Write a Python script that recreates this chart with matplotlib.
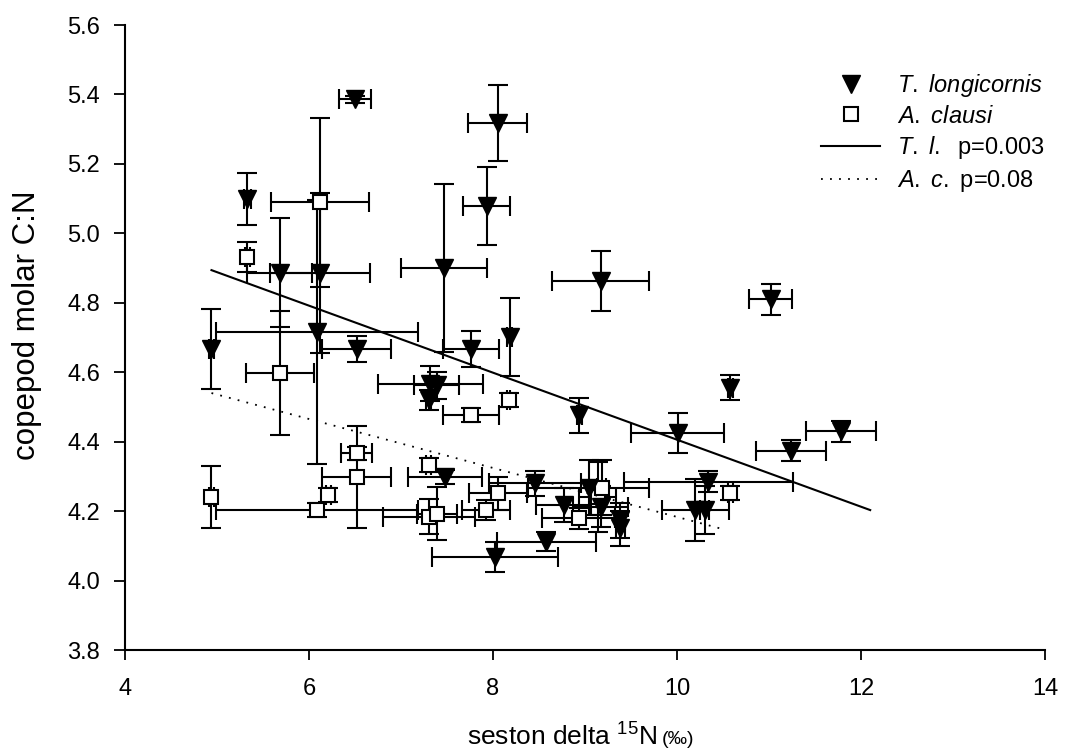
import matplotlib
matplotlib.use("Agg")
import matplotlib.pyplot as plt
import numpy as np
from matplotlib.lines import Line2D

# T. longicornis: x, y, x-error, y-error
tl_x = [4.94, 5.33, 5.68, 6.09, 6.12, 6.50, 6.52, 7.32, 7.39, 7.30, 7.47, 7.48, 7.76, 7.93, 8.02, 8.05, 8.18,
        8.46, 8.58, 8.77, 8.94, 9.04, 9.17, 9.17, 9.385, 9.385, 10.01, 10.20, 10.30, 10.34, 10.58, 11.02, 11.24, 11.78]
tl_y = [4.668, 5.099, 4.886, 4.716, 4.886, 5.386, 4.666, 4.567, 4.562, 4.52, 4.90, 4.297, 4.668, 5.079, 4.068, 5.318, 4.702,
        4.28, 4.112, 4.218, 4.476, 4.268, 4.863, 4.213, 4.174, 4.15, 4.426, 4.203, 4.203, 4.285, 4.556, 4.81, 4.374, 4.43]
tl_xerr = [0.03, 0.04, 0.35, 1.10, 0.54, 0.17, 0.375, 0.57, 0.245, 0.03, 0.47, 0.405, 0.305, 0.255, 0.685, 0.32, 0.03,
           0.50, 0.535, 0.30, 0.03, 0.66, 0.525, 0.30, 0.05, 0.05, 0.505, 0.36, 0.05, 0.92, 0.03, 0.235, 0.38, 0.38]
tl_yerr = [0.115, 0.074, 0.157, 0.38, 0.23, 0.01, 0.037, 0.05, 0.04, 0.03, 0.243, 0.02, 0.052, 0.112, 0.043, 0.11, 0.113,
           0.036, 0.027, 0.05, 0.051, 0.08, 0.087, 0.06, 0.05, 0.05, 0.058, 0.09, 0.07, 0.03, 0.035, 0.045, 0.031, 0.03]

# A. clausi: x, y, x-error, y-error
ac_x = [4.94, 5.33, 5.68, 6.12, 6.09, 6.21, 6.52, 6.52, 7.30, 7.30, 7.39, 7.92, 7.76, 8.17, 8.05, 8.93, 9.14, 9.18, 10.58]
ac_y = [4.24, 4.932, 4.598, 5.089, 4.203, 4.246, 4.366, 4.299, 4.333, 4.184, 4.193, 4.203, 4.476, 4.52, 4.251, 4.179, 4.241, 4.268, 4.251]
ac_xerr = [0.03, 0.03, 0.37, 0.535, 1.10, 0.03, 0.17, 0.375, 0.03, 0.50, 0.22, 0.26, 0.305, 0.02, 0.315, 0.40, 0.20, 0.05, 0.03]
ac_yerr = [0.09, 0.042, 0.179, 0.243, 0.02, 0.02, 0.02, 0.147, 0.02, 0.05, 0.077, 0.03, 0.02, 0.02, 0.048, 0.03, 0.10, 0.08, 0.02]

# regression lines (end points)
tl_fit_x = [4.94, 12.10]
tl_fit_y = [4.894, 4.203]
ac_fit_x = [4.94, 10.50]
ac_fit_y = [4.54, 4.148]

plt.rcParams['font.family'] = ['Liberation Sans', 'DejaVu Sans']
plt.rcParams['mathtext.fontset'] = 'custom'
plt.rcParams['mathtext.rm'] = 'Liberation Sans'
plt.rcParams['mathtext.it'] = 'Liberation Sans:italic'

W, H = 1088, 753
fig = plt.figure(figsize=(W / 100, H / 100), dpi=100)
ax = fig.add_axes([125 / W, 1 - 650 / H, (1045 - 125) / W, (650 - 25) / H])

ekw = dict(fmt='none', ecolor='black', elinewidth=1.5, capsize=7, capthick=1.5, zorder=2)
ax.errorbar(tl_x, tl_y, xerr=tl_xerr, yerr=tl_yerr, **ekw)
ax.errorbar(ac_x, ac_y, xerr=ac_xerr, yerr=ac_yerr, **ekw)
ax.plot(ac_x, ac_y, 's', markerfacecolor='white', markeredgecolor='black', markeredgewidth=1.5, markersize=10,
        linestyle='none', zorder=3)
ax.plot(tl_x, tl_y, 'v', color='black', markersize=13, linestyle='none', zorder=4)
ax.plot(tl_fit_x, tl_fit_y, '-', color='black', linewidth=1.5, zorder=5)
ax.plot(ac_fit_x, ac_fit_y, linestyle=(0, (1, 4)), color='black', linewidth=1.3, zorder=5)

ax.set_xlim(4, 14)
ax.set_ylim(3.8, 5.6)
ax.set_xticks([4, 6, 8, 10, 12, 14])
yt = np.round(np.arange(3.8, 5.61, 0.2), 1)
ax.set_yticks(yt)
ax.set_yticklabels([f"{v:.1f}" for v in yt])
ax.spines['top'].set_visible(False)
ax.spines['right'].set_visible(False)
ax.spines['left'].set_linewidth(1.5)
ax.spines['bottom'].set_linewidth(1.5)
ax.tick_params(axis='y', direction='out', length=8, width=1.3, labelsize=17, pad=10)
ax.tick_params(axis='x', direction='out', length=7, width=1.3, labelsize=17, pad=13)

fig.text(27 / W, 1 - 325 / H, "copepod molar C:N", rotation=90, ha='center', va='center', fontsize=22.5)
fig.text(657 / W, 1 - 737 / H, r"seston delta $^{15}$N", ha='right', va='center', fontsize=19)
fig.text(662 / W, 1 - 740 / H, "(‰)", ha='left', va='center', fontsize=14)

# legend
handles = [Line2D([], [], marker='v', color='black', linestyle='none', markersize=13),
           Line2D([], [], marker='s', markerfacecolor='white', markeredgecolor='black', markeredgewidth=1.5,
                  linestyle='none', markersize=10),
           Line2D([], [], color='black', linewidth=1.5),
           Line2D([], [], color='black', linewidth=1.3, linestyle=(0, (1, 4)))]
labels = [r"$\it{T.\ longicornis}$", r"$\it{A.\ clausi}$", r"$\it{T.\ l.}$  p=0.003", r"$\it{A.\ c.}$ p=0.08"]
fig.legend(handles, labels, loc='upper left', bbox_to_anchor=(821 / W, 1 - 72 / H), frameon=False, fontsize=17,
           handlelength=2.5, handletextpad=0.7, labelspacing=0.28, borderpad=0, borderaxespad=0)

fig.savefig("out.png", dpi=100)
